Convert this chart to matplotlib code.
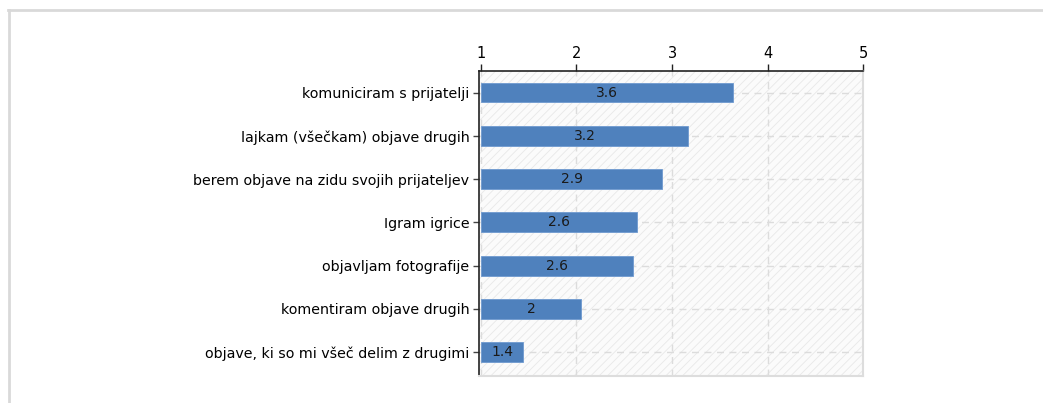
import matplotlib.pyplot as plt
from matplotlib.patches import Rectangle
from matplotlib.lines import Line2D

categories = [
    "komuniciram s prijatelji",
    "lajkam (všečkam) objave drugih",
    "berem objave na zidu svojih prijateljev",
    "Igram igrice",
    "objavljam fotografije",
    "komentiram objave drugih",
    "objave, ki so mi všeč delim z drugimi",
]
values = [3.64, 3.17, 2.90, 2.63, 2.59, 2.05, 1.44]
labels = ["3.6", "3.2", "2.9", "2.6", "2.6", "2", "1.4"]

plt.rcParams["font.family"] = "DejaVu Sans"
plt.rcParams["hatch.linewidth"] = 0.6

fig = plt.figure(figsize=(10.43, 4.03), dpi=100)
ax = fig.add_axes([0.4593, 0.067, 0.3682, 0.7571])

# frame around the picture
fig.add_artist(Line2D([8 / 1043, 1.0], [1 - 9.5 / 403] * 2, color="#d9d9d9", lw=2))
fig.add_artist(Line2D([8.5 / 1043] * 2, [0, 1 - 9.5 / 403], color="#d9d9d9", lw=2))

# hatched plot background
ax.add_patch(Rectangle((0, 0), 1, 1, transform=ax.transAxes, facecolor="#fbfbfb",
                       edgecolor="#e8e8e8", lw=0, hatch="////", zorder=0))

y = list(range(len(categories)))
ax.barh(y, [v - 1 for v in values], left=1, height=0.46, color="#4f81bd",
        edgecolor="#6f9ad0", lw=0.6, zorder=3)
for yi, v, lab in zip(y, values, labels):
    ax.text((1 + v) / 2, yi, lab, ha="center", va="center", fontsize=10, color="#1a1a1a", zorder=4)

ax.set_xlim(0.98, 5)
ax.set_ylim(6.55, -0.5)
ax.set_xticks([1, 2, 3, 4, 5])
ax.set_yticks(y)
ax.set_yticklabels(categories)
ax.xaxis.tick_top()
ax.tick_params(axis="x", length=5, width=1, labelsize=10.5, color="#222222", pad=2)
ax.tick_params(axis="y", length=4, width=1, labelsize=10.3, color="#444444", pad=3)

ax.grid(True, linestyle=(0, (5, 4)), color="#dcdcdc", lw=1, zorder=1)
ax.set_axisbelow(True)

for side in ["right", "bottom"]:
    ax.spines[side].set_color("#dddddd")
    ax.spines[side].set_linewidth(1.5)
for side in ["top", "left"]:
    ax.spines[side].set_color("#222222")
    ax.spines[side].set_linewidth(1.2)

fig.savefig("out.png", dpi=100)
